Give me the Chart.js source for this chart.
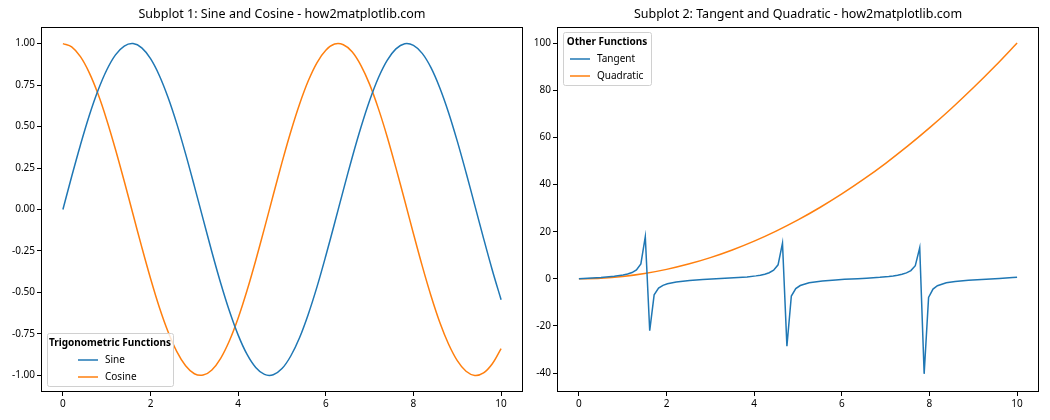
<!DOCTYPE html>
<html>
<head>
<meta charset="utf-8">
<script src="https://cdn.jsdelivr.net/npm/chart.js@4/dist/chart.umd.min.js"></script>
<style>
body{margin:0;background:#fff;}
canvas{position:absolute;top:0;}
</style>
</head>
<body>
<canvas id="left" width="525" height="420" style="left:0"></canvas>
<canvas id="right" width="525" height="420" style="left:525px"></canvas>
<script>
// values
const trigX = [0,0.2,0.4,0.6,0.8,1,1.2,1.4,1.6,1.8,2,2.2,2.4,2.6,2.8,3,3.2,3.4,3.6,3.8,4,4.2,4.4,4.6,4.8,5,
  5.2,5.4,5.6,5.8,6,6.2,6.4,6.6,6.8,7,7.2,7.4,7.6,7.8,8,8.2,8.4,8.6,8.8,9,9.2,9.4,9.6,9.8,10];
const sineY = [0,0.199,0.389,0.565,0.717,0.841,0.932,0.985,1.0,0.974,0.909,0.808,0.675,0.516,0.335,0.141,
  -0.058,-0.256,-0.443,-0.612,-0.757,-0.872,-0.952,-0.994,-0.996,-0.959,-0.883,-0.773,-0.631,-0.465,-0.279,
  -0.083,0.117,0.312,0.494,0.657,0.794,0.899,0.968,0.999,0.989,0.941,0.855,0.734,0.585,0.412,0.223,0.025,
  -0.174,-0.366,-0.544];
const cosineY = [1,0.980,0.921,0.825,0.697,0.540,0.362,0.170,-0.029,-0.227,-0.416,-0.589,-0.737,-0.857,
  -0.942,-0.990,-0.998,-0.967,-0.897,-0.791,-0.654,-0.490,-0.307,-0.112,0.087,0.284,0.469,0.635,0.776,0.886,
  0.960,0.997,0.993,0.951,0.869,0.754,0.608,0.439,0.251,0.054,-0.146,-0.340,-0.520,-0.680,-0.811,-0.911,
  -0.975,-1.0,-0.985,-0.930,-0.839];

const tanX = [0,0.202,0.505,0.808,1.010,1.111,1.212,1.313,1.414,1.515,1.616,1.717,1.818,1.919,2.020,2.222,
  2.525,2.828,3.030,3.333,3.535,3.838,4.040,4.141,4.242,4.343,4.444,4.545,4.646,4.747,4.848,4.949,5.051,
  5.253,5.556,5.859,6.061,6.364,6.566,6.869,7.071,7.172,7.273,7.374,7.475,7.576,7.677,7.778,7.879,7.980,
  8.081,8.182,8.384,8.586,8.889,9.091,9.394,9.596,9.899,10];
const tanY = [0,0.205,0.553,1.049,1.588,2.02,2.67,3.79,6.33,17.9,-22.0,-6.78,-3.96,-2.75,-2.07,-1.31,
  -0.708,-0.319,-0.112,0.193,0.415,0.814,1.25,1.56,1.97,2.59,3.64,5.93,15.1,-28.6,-7.31,-4.14,-2.84,
  -1.67,-0.889,-0.449,-0.226,0.081,0.291,0.656,1.01,1.23,1.53,1.93,2.51,3.51,5.59,13.2,-40.3,-7.90,
  -4.33,-2.94,-1.71,-1.11,-0.576,-0.346,-0.035,0.173,0.514,0.648];
const quadX = [0,0.5,1,1.5,2,2.5,3,3.5,4,4.5,5,5.5,6,6.5,7,7.5,8,8.5,9,9.5,10];
const quadY = [0,0.25,1,2.25,4,6.25,9,12.25,16,20.25,25,30.25,36,42.25,49,56.25,64,72.25,81,90.25,100];

const xTicks = [0,2,4,6,8,10];
const leftYTicks = [-1,-0.75,-0.5,-0.25,0,0.25,0.5,0.75,1];
const rightYTicks = [-40,-20,0,20,40,60,80,100];

const BLUE = '#1f77b4', ORANGE = '#ff7f0e';
const FONT = '"Noto Sans", "DejaVu Sans", sans-serif';

function pts(xs, ys){ return xs.map((x,i) => ({x:x, y:ys[i]})); }

// frame, title and boxed legend drawn like matplotlib
const axesDecor = {
  id: 'axesDecor',
  afterDraw(chart, args, opts){
    const ctx = chart.ctx, a = chart.chartArea;
    ctx.save();
    ctx.strokeStyle = '#000';
    ctx.lineWidth = 1;
    ctx.strokeRect(a.left+0.5, a.top+0.5, a.right-a.left-1, a.bottom-a.top-1);
    ctx.fillStyle = '#000';
    ctx.font = '12.5px ' + FONT;
    ctx.textAlign = 'center';
    ctx.textBaseline = 'middle';
    ctx.fillText(opts.title, (a.left+a.right)/2, 14);

    // legend
    const w = opts.boxWidth, h = 53;
    const bx = a.left + 6;
    const by = opts.corner === 'top' ? a.top + 5 : a.bottom - 6 - h;
    ctx.fillStyle = 'rgba(255,255,255,0.8)';
    ctx.strokeStyle = '#d0d0d0';
    ctx.beginPath();
    ctx.roundRect(bx+0.5, by+0.5, w, h, 2);
    ctx.fill();
    ctx.stroke();
    ctx.fillStyle = '#000';
    ctx.textAlign = 'center';
    ctx.font = 'bold 10px ' + FONT;
    ctx.fillText(opts.legendTitle, bx + w/2, by+10);
    ctx.textAlign = 'left';
    ctx.font = '10px ' + FONT;
    const lx = bx + (w - opts.itemWidth)/2;
    chart.data.datasets.forEach((ds, i) => {
      const y = by + 27 + i*17;
      ctx.strokeStyle = ds.borderColor;
      ctx.lineWidth = 1.5;
      ctx.beginPath();
      ctx.moveTo(lx, y); ctx.lineTo(lx+20, y);
      ctx.stroke();
      ctx.fillStyle = '#000';
      ctx.fillText(ds.label, lx+27, y);
    });
    ctx.restore();
  }
};

function axis(ticks, fmt, fitProp, fitSize){
  return {
    type: 'linear',
    grid: {display: true, drawOnChartArea: false, drawTicks: true, tickLength: 4, color: '#000'},
    border: {display: false},
    ticks: {color: '#000', font: {family: FONT, size: 10}, padding: 2, callback: fmt},
    afterBuildTicks: s => { s.ticks = ticks.map(v => ({value: v})); },
    afterFit: s => { s[fitProp] = fitSize; }
  };
}

function makeChart(id, datasets, yTicks, yMin, yMax, yFmt, yWidth, padRight, decor){
  const x = axis(xTicks, v => String(v), 'height', 28);
  x.min = -0.5; x.max = 10.5;
  const y = axis(yTicks, yFmt, 'width', yWidth);
  y.min = yMin; y.max = yMax;
  new Chart(document.getElementById(id), {
    type: 'line',
    data: {datasets: datasets},
    options: {
      responsive: false,
      animation: false,
      layout: {padding: {top: 27, right: padRight, left: 0, bottom: 0}},
      elements: {point: {radius: 0}, line: {borderWidth: 1.5}},
      scales: {x: x, y: y},
      plugins: {legend: {display: false}, tooltip: {enabled: false}, axesDecor: decor}
    },
    plugins: [axesDecor]
  });
}

makeChart('left', [
  {label: 'Sine', data: pts(trigX, sineY), borderColor: BLUE, tension: 0.35},
  {label: 'Cosine', data: pts(trigX, cosineY), borderColor: ORANGE, tension: 0.35}
], leftYTicks, -1.1, 1.1, v => v.toFixed(2), 41, 2,
  {title: 'Subplot 1: Sine and Cosine - how2matplotlib.com', legendTitle: 'Trigonometric Functions',
   corner: 'bottom', boxWidth: 126, itemWidth: 64});

makeChart('right', [
  {label: 'Tangent', data: pts(tanX, tanY), borderColor: BLUE},
  {label: 'Quadratic', data: pts(quadX, quadY), borderColor: ORANGE, tension: 0.35}
], rightYTicks, -48, 106.8, v => String(v), 32, 11,
  {title: 'Subplot 2: Tangent and Quadratic - how2matplotlib.com', legendTitle: 'Other Functions',
   corner: 'top', boxWidth: 88, itemWidth: 74});
</script>
</body>
</html>
